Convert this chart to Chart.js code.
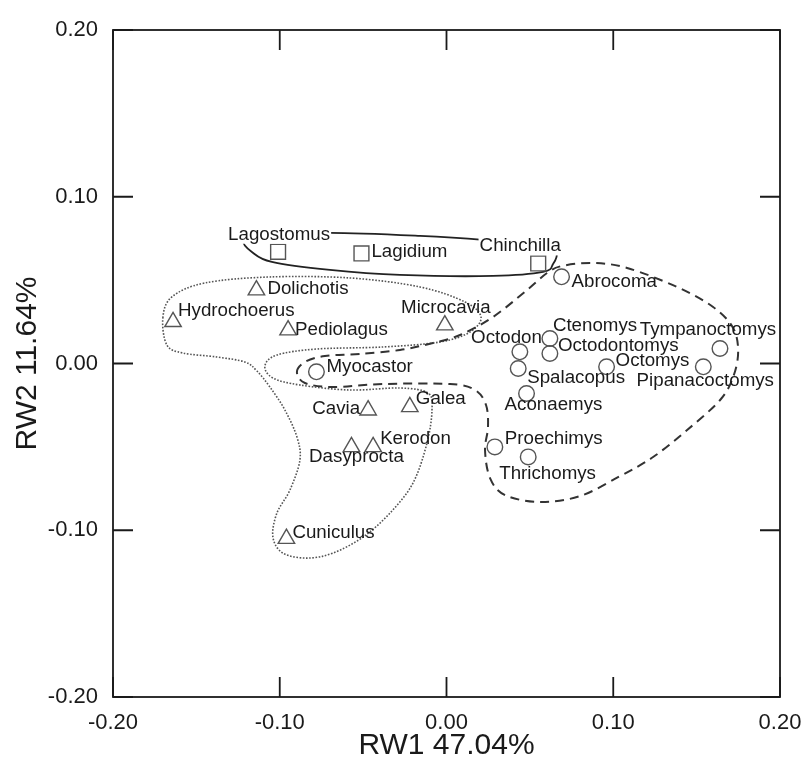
<!DOCTYPE html>
<html>
<head>
<meta charset="utf-8">
<title>RW1 / RW2</title>
<script src="https://cdn.jsdelivr.net/npm/chart.js@4.4.1/dist/chart.umd.min.js"></script>
<style>
  html, body { margin: 0; padding: 0; background: #fff; }
  #plot { display: block; }
</style>
</head>
<body>
<canvas id="plot" width="803" height="761"></canvas>
<script>
const axisTicks = [-0.2, -0.1, 0, 0.1, 0.2];

// Chinchillidae (squares)
const squareNames = ['Lagostomus', 'Lagidium', 'Chinchilla'];
const squareX = [-0.101, -0.051, 0.055];
const squareY = [0.067, 0.066, 0.060];

// Cavioidea (triangles)
const triangleNames = ['Hydrochoerus', 'Dolichotis', 'Pediolagus', 'Microcavia', 'Cavia', 'Galea', 'Dasyprocta', 'Kerodon', 'Cuniculus'];
const triangleX = [-0.164, -0.114, -0.095, -0.001, -0.047, -0.022, -0.057, -0.044, -0.096];
const triangleY = [0.025, 0.044, 0.020, 0.023, -0.028, -0.026, -0.050, -0.050, -0.105];

// Octodontoidea (circles)
const circleNames = ['Myocastor', 'Abrocoma', 'Ctenomys', 'Octodon', 'Octodontomys', 'Spalacopus', 'Aconaemys', 'Octomys', 'Pipanacoctomys', 'Tympanoctomys', 'Proechimys', 'Thrichomys'];
const circleX = [-0.078, 0.069, 0.062, 0.044, 0.062, 0.043, 0.048, 0.096, 0.154, 0.164, 0.029, 0.049];
const circleY = [-0.005, 0.052, 0.015, 0.007, 0.006, -0.003, -0.018, -0.002, -0.002, 0.009, -0.050, -0.056];

// group outlines (closed curves)
const solidHullX = [-0.1215, -0.1107, -0.0699, -0.0159, 0.0219, 0.0561, 0.0657, 0.0639, 0.0579, 0.0279, -0.0279, -0.0699, -0.1047, -0.1167];
const solidHullY = [0.0735, 0.0765, 0.0783, 0.0765, 0.0741, 0.0705, 0.0663, 0.0597, 0.0549, 0.0525, 0.0531, 0.0561, 0.0609, 0.0669];

const dottedHullX = [-0.1701, -0.1647, -0.1449, -0.1059, -0.0579, -0.0159, 0.0111, 0.0207, 0.0141, -0.0039, -0.0381, -0.0777, -0.1017, -0.1089, -0.1041, -0.0879, -0.0579, -0.0279, -0.0111, -0.0087, -0.0117, -0.0201, -0.0339, -0.0501, -0.0681, -0.0837, -0.0981, -0.1041, -0.1017, -0.0939, -0.0879, -0.0897, -0.0969, -0.1059, -0.1137, -0.1209, -0.1377, -0.1581, -0.1677];
const dottedHullY = [0.0273, 0.0399, 0.0483, 0.0519, 0.0513, 0.0459, 0.0369, 0.0279, 0.0189, 0.0129, 0.0099, 0.0087, 0.0051, -0.0015, -0.0087, -0.0129, -0.0159, -0.0147, -0.0177, -0.0279, -0.0477, -0.0717, -0.0897, -0.1041, -0.1137, -0.1167, -0.1137, -0.1041, -0.0897, -0.0759, -0.0579, -0.0441, -0.0279, -0.0141, -0.0045, 0.0009, 0.0039, 0.0063, 0.0111];

const dashedHullX = [-0.0897, -0.0849, -0.0729, -0.0519, -0.0279, -0.0081, 0.0081, 0.0279, 0.0483, 0.0603, 0.0693, 0.0879, 0.1083, 0.1383, 0.1599, 0.1719, 0.1749, 0.1719, 0.1641, 0.1443, 0.1239, 0.1041, 0.0801, 0.0561, 0.0351, 0.0261, 0.0231, 0.0249, 0.0237, 0.0171, 0.0021, -0.0381, -0.0681, -0.0849];
const dashedHullY = [-0.0051, 0.0009, 0.0045, 0.0057, 0.0081, 0.0123, 0.0171, 0.0279, 0.0441, 0.0543, 0.0585, 0.0603, 0.0573, 0.0459, 0.0339, 0.0213, 0.0069, -0.0081, -0.0219, -0.0399, -0.0561, -0.0675, -0.0795, -0.0831, -0.0789, -0.0687, -0.0519, -0.0381, -0.0249, -0.0159, -0.0123, -0.0123, -0.0141, -0.0117];

// where each name sits next to its marker: [dx px, dy px, align, white backing]
const labelPlace = {
  Lagostomus: [1, -17, 'center', true],
  Lagidium: [10, -1, 'left'],
  Chinchilla: [-18, -17, 'center', true],
  Hydrochoerus: [5, -11, 'left'],
  Dolichotis: [11, -1, 'left'],
  Pediolagus: [7, 0, 'left'],
  Microcavia: [1, -17, 'center'],
  Cavia: [-8, -1, 'right'],
  Galea: [6, -8, 'left'],
  Dasyprocta: [5, 10, 'center'],
  Kerodon: [7, -8, 'left'],
  Cuniculus: [6, -5, 'left'],
  Myocastor: [10, -5, 'left'],
  Abrocoma: [10, 5, 'left'],
  Ctenomys: [3, -12, 'left'],
  Octodon: [22, -14, 'right'],
  Octodontomys: [8, -7, 'left'],
  Spalacopus: [9, 10, 'left'],
  Aconaemys: [-22, 12, 'left'],
  Octomys: [9, -6, 'left'],
  Pipanacoctomys: [2, 14, 'center'],
  Tympanoctomys: [-12, -18, 'center'],
  Proechimys: [10, -8, 'left'],
  Thrichomys: [-29, 17, 'left'],
};

const FONT = '"Liberation Sans", Arial, Helvetica, sans-serif';
const INK = '#1a1a1a';

function toPoints(xs, ys, names) {
  return xs.map((x, i) => ({ x, y: ys[i], name: names ? names[i] : '' }));
}

function traceClosedCurve(ctx, pts) {
  const n = pts.length;
  ctx.beginPath();
  ctx.moveTo(pts[0][0], pts[0][1]);
  for (let i = 0; i < n; i++) {
    const p0 = pts[(i - 1 + n) % n];
    const p1 = pts[i];
    const p2 = pts[(i + 1) % n];
    const p3 = pts[(i + 2) % n];
    ctx.bezierCurveTo(
      p1[0] + (p2[0] - p0[0]) / 6, p1[1] + (p2[1] - p0[1]) / 6,
      p2[0] - (p3[0] - p1[0]) / 6, p2[1] - (p3[1] - p1[1]) / 6,
      p2[0], p2[1]
    );
  }
  ctx.closePath();
}

const hullPlugin = {
  id: 'hulls',
  beforeDatasetsDraw(chart) {
    const { ctx, scales: { x, y } } = chart;
    const hulls = [
      { xs: dottedHullX, ys: dottedHullY, dash: [1.6, 1.6], width: 1.6, color: '#555' },
      { xs: dashedHullX, ys: dashedHullY, dash: [9, 6], width: 2, color: '#333' },
      { xs: solidHullX, ys: solidHullY, dash: [], width: 1.8, color: '#222' },
    ];
    ctx.save();
    hulls.forEach((h) => {
      const pts = h.xs.map((v, i) => [x.getPixelForValue(v), y.getPixelForValue(h.ys[i])]);
      traceClosedCurve(ctx, pts);
      ctx.setLineDash(h.dash);
      ctx.lineWidth = h.width;
      ctx.strokeStyle = h.color;
      ctx.stroke();
    });
    ctx.restore();
  },
};

const namePlugin = {
  id: 'names',
  afterDatasetsDraw(chart) {
    const { ctx } = chart;
    ctx.save();
    ctx.font = `17.5px ${FONT}`;
    ctx.textBaseline = 'middle';
    chart.data.datasets.forEach((ds, di) => {
      const meta = chart.getDatasetMeta(di);
      meta.data.forEach((el, i) => {
        const name = ds.data[i].name;
        const [dx, dy, align, backing] = labelPlace[name] || [8, 0, 'left'];
        ctx.save();
        ctx.translate(el.x + dx, el.y + dy);
        ctx.scale(1.07, 1);
        ctx.textAlign = align;
        if (backing) {
          const w = ctx.measureText(name).width;
          const left = align === 'center' ? -w / 2 : align === 'right' ? -w : 0;
          ctx.fillStyle = '#fff';
          ctx.fillRect(left - 1, -9, w + 2, 18);
        }
        ctx.fillStyle = INK;
        ctx.fillText(name, 0, 0);
        ctx.restore();
      });
    });
    ctx.restore();
  },
};

const framePlugin = {
  id: 'frame',
  afterDraw(chart) {
    const { ctx, chartArea: a, scales: { x, y } } = chart;
    ctx.save();
    ctx.strokeStyle = INK;
    ctx.lineWidth = 1.8;
    ctx.strokeRect(a.left, a.top, a.right - a.left, a.bottom - a.top);
    ctx.beginPath();
    axisTicks.forEach((v) => {
      const px = x.getPixelForValue(v);
      ctx.moveTo(px, a.bottom); ctx.lineTo(px, a.bottom - 20);
      ctx.moveTo(px, a.top); ctx.lineTo(px, a.top + 20);
      const py = y.getPixelForValue(v);
      ctx.moveTo(a.left, py); ctx.lineTo(a.left + 20, py);
      ctx.moveTo(a.right, py); ctx.lineTo(a.right - 20, py);
    });
    ctx.stroke();
    ctx.restore();
  },
};

const markerStyle = {
  borderColor: '#555',
  backgroundColor: 'rgba(255,255,255,0)',
  borderWidth: 1.4,
};

const fixedTicks = (scale) => {
  scale.ticks = axisTicks.map((value) => ({ value }));
};

new Chart(document.getElementById('plot'), {
  type: 'scatter',
  data: {
    datasets: [
      { label: 'Chinchillidae', data: toPoints(squareX, squareY, squareNames), pointStyle: 'rect', pointRadius: 10.5, ...markerStyle },
      { label: 'Cavioidea', data: toPoints(triangleX, triangleY, triangleNames), pointStyle: 'triangle', pointRadius: 9.5, ...markerStyle },
      { label: 'Octodontoidea', data: toPoints(circleX, circleY, circleNames), pointStyle: 'circle', pointRadius: 7.8, ...markerStyle },
    ],
  },
  options: {
    responsive: false,
    animation: false,
    events: [],
    layout: { padding: { top: 30, right: 23, left: 0, bottom: 0 } },
    plugins: {
      legend: { display: false },
      tooltip: { enabled: false },
    },
    scales: {
      x: {
        min: -0.2,
        max: 0.2,
        afterBuildTicks: fixedTicks,
        afterFit: (s) => {
          s.height = 64;
          s.paddingLeft = 0;
          s.paddingRight = 0;
        },
        grid: { display: false },
        border: { display: false },
        ticks: {
          padding: 5,
          color: INK,
          font: { family: FONT, size: 22 },
          maxRotation: 0,
          callback: (v) => v.toFixed(2),
        },
        title: {
          display: true,
          text: 'RW1 47.04%',
          color: INK,
          font: { family: FONT, size: 30, lineHeight: 1 },
          padding: { top: 0, bottom: 0 },
        },
      },
      y: {
        min: -0.2,
        max: 0.2,
        afterBuildTicks: fixedTicks,
        afterFit: (s) => {
          s.width = 113;
          s.paddingTop = 0;
          s.paddingBottom = 0;
        },
        grid: { display: false },
        border: { display: false },
        ticks: {
          padding: 7,
          color: INK,
          font: { family: FONT, size: 22 },
          callback: (v) => v.toFixed(2),
        },
        title: {
          display: true,
          text: 'RW2 11.64%',
          color: INK,
          font: { family: FONT, size: 30, lineHeight: 1 },
          padding: { top: 13, bottom: 0 },
        },
      },
    },
  },
  plugins: [hullPlugin, namePlugin, framePlugin],
});
</script>
</body>
</html>
